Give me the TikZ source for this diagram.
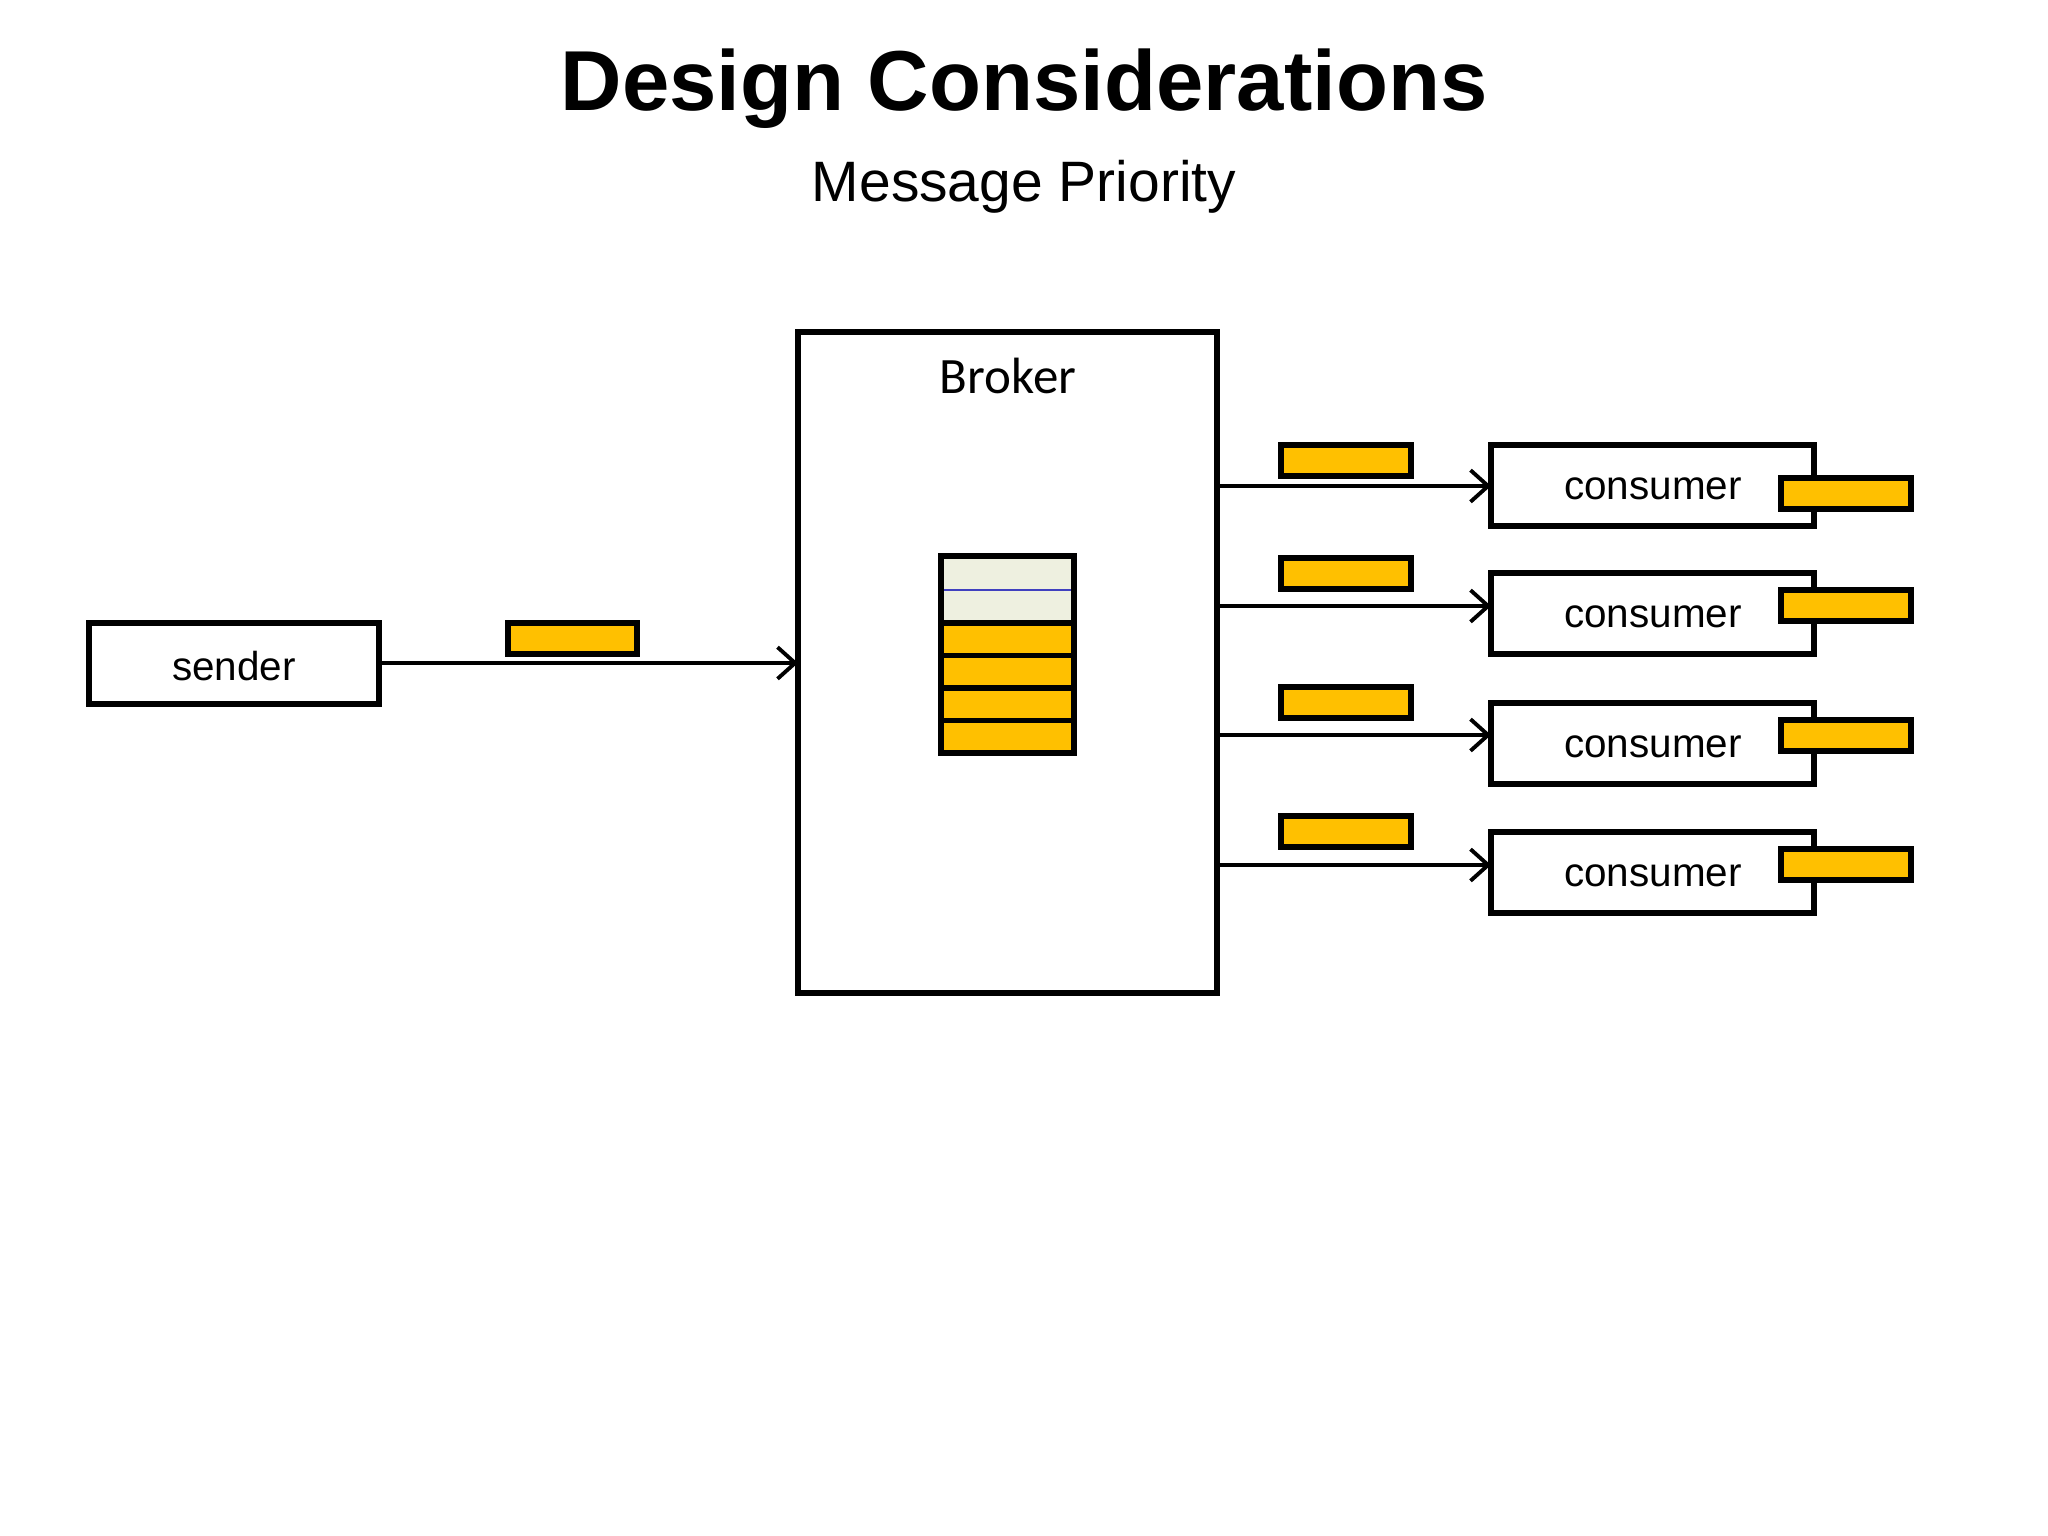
\documentclass[tikz,border=0pt]{standalone}
\usepackage{fontspec}
\usetikzlibrary{arrows.meta}
\setmainfont{Liberation Sans}
\newfontfamily\calibrifont{Carlito}
\definecolor{msg}{HTML}{FFC000}
\definecolor{qbg}{HTML}{EEF0E0}
\begin{document}
\begin{tikzpicture}[x=0.01cm,y=-0.01cm,
 box/.style={draw,line width=1.5pt},
 m/.style={draw,line width=1.5pt,fill=msg},
 arr/.style={->,line width=1.1pt,>={Straight Barb[length=5pt,width=9pt]}}]
\useasboundingbox (0,0) rectangle (2048,1536);
\node (title) at (1024,89) {\fontsize{24.2}{30}\selectfont\bfseries Design Considerations};
\node (sub) at (1024,187) {\fontsize{16.2}{18}\selectfont Message Priority};
\draw[box] (798,332) rectangle (1217,993);
\coordinate (bw) at (798,663);
\node (broker) at (1008,376) {\calibrifont\fontsize{14.5}{18}\selectfont Broker};
\draw[box] (89,623) rectangle (379,704);
\node (sender) at (234,666) {\fontsize{11.5}{16}\selectfont sender};
\coordinate (se) at (379,663);
\draw[m] (508,623) rectangle (637,654);
\draw[arr] (se) -- (bw);
% queue
\fill[qbg] (941,556) rectangle (1074,623);
\draw[blue!50!gray,line width=0.5pt] (941,590) -- (1074,590);
\foreach \i in {0,1,2,3}{\draw[m] (941,{623+\i*32.5}) rectangle (1074,{655.5+\i*32.5});}
\draw[box] (941,556) rectangle (1074,753);
% consumers
\foreach \t/\b/\a/\my/\cy [count=\k] in {445/526/486/445/478, 573/654/606/558/590, 703/784/735/687/720, 832/913/865/816/849}{
 \draw[box] (1491,\t) rectangle (1814,\b);
 \node (c\k) at (1653,{(\t+\b)/2+3}) {\fontsize{11.5}{16}\selectfont consumer};
 \coordinate (s\k) at (1217,\a);
 \coordinate (e\k) at (1491,\a);
 \draw[arr] (s\k) -- (e\k);
 \draw[m] (1281,\my) rectangle (1411,{\my+31});
 \draw[m] (1781,\cy) rectangle (1911,{\cy+31});
}
\end{tikzpicture}
\end{document}
